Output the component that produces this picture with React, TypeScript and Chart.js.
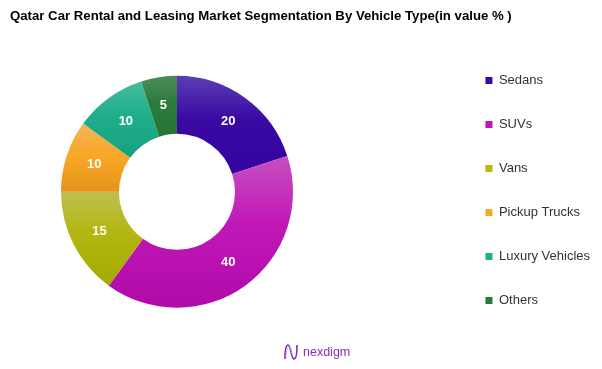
import React, { useEffect, useRef } from "react";
import { Chart, registerables } from "chart.js";

Chart.register(...registerables);

const TITLE = "Qatar Car Rental and Leasing Market Segmentation By Vehicle Type(in value % )";
const categories = ["Sedans", "SUVs", "Vans", "Pickup Trucks", "Luxury Vehicles", "Others"];
const values = [20, 40, 15, 10, 10, 5];
const baseColors = ["#3a08a3", "#c018b6", "#b3b70f", "#f9a826", "#1fae8b", "#2d7b3c"];
const lightColors = ["#5c3eb2", "#c84fc1", "#bdbf4e", "#f4b45c", "#45bd9c", "#4d8b5d"];
const darkColors = ["#3404a0", "#b00aa8", "#a2a900", "#e6941a", "#18a07f", "#277434"];

const DONUT_CENTER = { x: 177, y: 191.8 };
const OUTER_R = 116;
const CUTOUT = 0.5;

function sliceGradient(c: any) {
  const i = c.dataIndex;
  const chart = c.chart;
  const area = chart.chartArea;
  if (!area || i === undefined) return baseColors[i] || "#999";
  const cx = (area.left + area.right) / 2;
  const cy = (area.top + area.bottom) / 2;
  const total = values.reduce((a, b) => a + b, 0);
  const before = values.slice(0, i).reduce((a, b) => a + b, 0);
  const start = -Math.PI / 2 + (before / total) * Math.PI * 2;
  const end = start + (values[i] / total) * Math.PI * 2;
  let ymin = Infinity;
  let ymax = -Infinity;
  for (let k = 0; k <= 60; k++) {
    const a = start + ((end - start) * k) / 60;
    for (const r of [OUTER_R, OUTER_R * CUTOUT]) {
      const y = cy + r * Math.sin(a);
      ymin = Math.min(ymin, y);
      ymax = Math.max(ymax, y);
    }
  }
  const g = chart.ctx.createLinearGradient(0, ymin, 0, ymax);
  g.addColorStop(0, lightColors[i]);
  g.addColorStop(0.45, baseColors[i]);
  g.addColorStop(1, darkColors[i]);
  return g;
}

const shiftPlugin = {
  id: "shiftDonut",
  beforeDatasetsDraw(chart: any) {
    const a = chart.chartArea;
    chart.ctx.save();
    chart.ctx.translate(
      DONUT_CENTER.x - (a.left + a.right) / 2,
      DONUT_CENTER.y - (a.top + a.bottom) / 2
    );
  },
  afterDatasetsDraw(chart: any) {
    const ctx = chart.ctx;
    const meta = chart.getDatasetMeta(0);
    ctx.save();
    ctx.fillStyle = "#ffffff";
    ctx.font = "bold 13px Arial, 'Liberation Sans', sans-serif";
    ctx.textAlign = "center";
    ctx.textBaseline = "middle";
    meta.data.forEach((el: any, i: number) => {
      const p = el.getCenterPoint();
      ctx.fillText(String(values[i]), p.x, p.y);
    });
    ctx.restore();
    ctx.restore();
  },
};

export default function App() {
  const ref = useRef<HTMLCanvasElement>(null);
  useEffect(() => {
    if (!ref.current) return;
    const chart = new Chart(ref.current, {
      type: "doughnut",
      data: {
        labels: categories,
        datasets: [
          {
            data: values,
            backgroundColor: sliceGradient as any,
            borderWidth: 0,
            radius: OUTER_R,
            cutout: CUTOUT * 100 + "%",
            clip: false,
          } as any,
        ],
      },
      options: {
        responsive: false,
        animation: false,
        devicePixelRatio: 1,
        layout: { padding: { left: 10, right: 2, top: 1, bottom: -11 } },
        plugins: {
          tooltip: { enabled: false },
          title: {
            display: true,
            text: TITLE,
            align: "start",
            color: "#000000",
            font: { family: "Arial, 'Liberation Sans', sans-serif", size: 13.2, weight: "bold" },
            padding: { top: 7, bottom: 6.4 },
          },
          legend: {
            display: true,
            position: "right",
            align: "center",
            labels: {
              boxWidth: 7,
              boxHeight: 7,
              padding: 31,
              color: "#333333",
              font: { family: "Arial, 'Liberation Sans', sans-serif", size: 13 },
              generateLabels: () =>
                categories.map((c, i) => ({
                  text: c,
                  fillStyle: baseColors[i],
                  strokeStyle: baseColors[i],
                  lineWidth: 0,
                  hidden: false,
                  index: i,
                  fontColor: "#333333",
                })),
            },
          },
        },
      },
      plugins: [shiftPlugin],
    });
    return () => chart.destroy();
  }, []);

  return (
    <div style={{ position: "absolute", left: 0, top: 0, width: 602, height: 369, background: "#fff" }}>
      <canvas ref={ref} width={602} height={369} style={{ position: "absolute", left: 0, top: 0 }} />
      <div
        style={{
          position: "absolute",
          left: 283,
          top: 343,
          display: "flex",
          alignItems: "center",
          gap: 4,
          fontFamily: "Arial, 'Liberation Sans', sans-serif",
        }}
      >
        <svg width="16" height="18" viewBox="0 0 16 18">
          <path d="M2 16 C2 6, 3 2, 5 2 C8 2, 8 16, 11 16 C13 16, 14 12, 14 2" fill="none" stroke="#7b2cbf" strokeWidth="1.6" />
          <path d="M3 16 C3 8, 4 4, 6 4 C9 4, 8 14, 11 14" fill="none" stroke="#c49be6" strokeWidth="0.8" />
        </svg>
        <span style={{ fontSize: 12.5, color: "#8a2bbd" }}>nexdigm</span>
      </div>
    </div>
  );
}
